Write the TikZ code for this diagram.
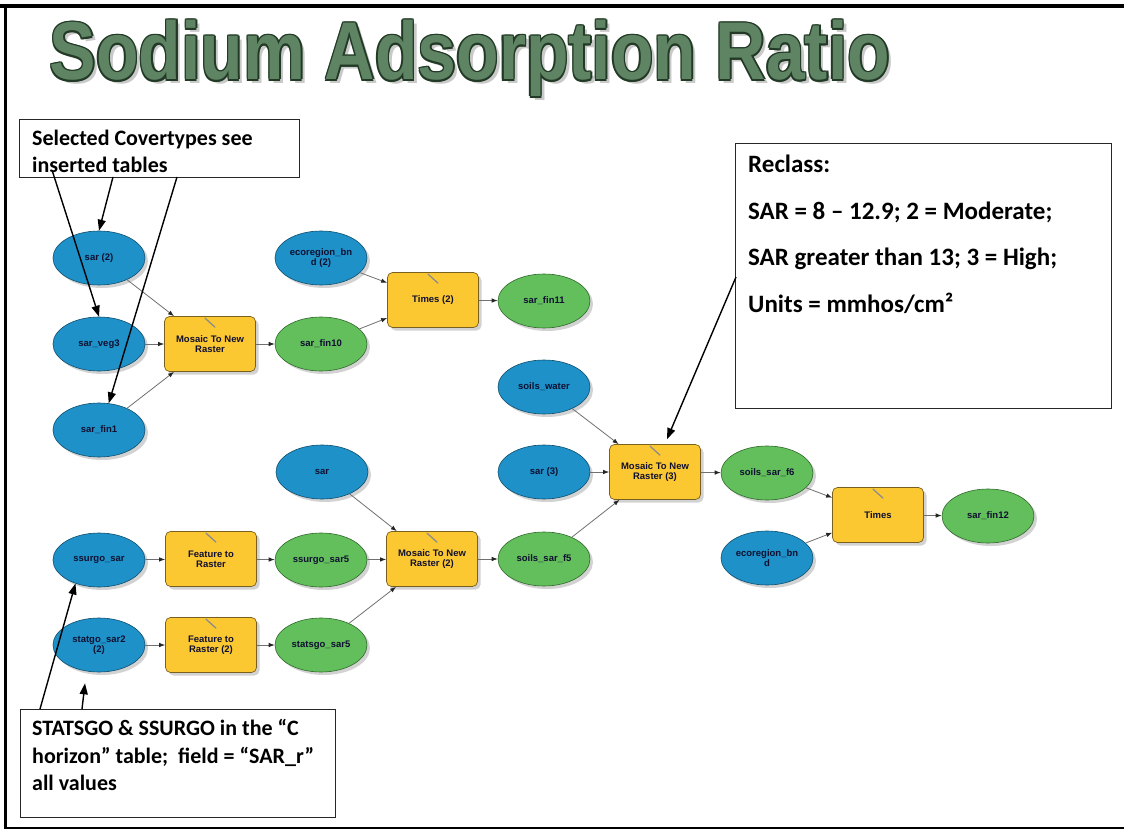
\documentclass[tikz,border=0pt]{standalone}
\usepackage{graphicx}
\usepackage{fontspec}
\setmainfont{Carlito}
\newfontfamily\titlefont{Liberation Sans}
\newfontfamily\modelfont{Liberation Sans}
\usetikzlibrary{arrows.meta,shapes.geometric,shadows,calc}

\definecolor{titlegreen}{HTML}{5E8463}
\definecolor{titledark}{HTML}{223A25}
\definecolor{inblue}{HTML}{1E91C8}
\definecolor{inedge}{HTML}{0F4F6E}
\definecolor{outgreen}{HTML}{63BE5C}
\definecolor{outedge}{HTML}{2E6A2A}
\definecolor{toolyellow}{HTML}{FCC832}
\definecolor{tooledge}{HTML}{7A6020}
\definecolor{labelcol}{HTML}{101030}
\definecolor{connc}{HTML}{707070}

\newcommand\mytitletext{\scalebox{0.85}[1]{\titlefont\bfseries\fontsize{82}{86}\selectfont Sodium Adsorption Ratio}}

\tikzset{
  modeltxt/.style={font=\modelfont\bfseries\fontsize{9.5}{10}\selectfont, text=labelcol, align=center},
  mshadow/.style={drop shadow={shadow xshift=3pt, shadow yshift=-3pt, fill=black!35, opacity=0.5}},
  inp/.style={modeltxt, ellipse, draw=inedge, line width=0.6pt, fill=inblue, minimum width=92pt, minimum height=54pt, inner sep=0pt, mshadow},
  outp/.style={inp, draw=outedge, fill=outgreen},
  tool/.style={modeltxt, rectangle, rounded corners=5pt, draw=tooledge, line width=0.7pt, fill=toolyellow, minimum width=91pt, minimum height=55pt, inner sep=0pt, mshadow},
  conn/.style={draw=connc, line width=0.8pt, -{Latex[length=6pt,width=4.5pt,color=black!85]}},
  hammer/.style={draw=black!45, line width=1.3pt, line cap=round},
  annbox/.style={draw=black!85, line width=0.9pt, fill=white, rectangle, inner sep=0pt, anchor=north west},
  anntxt/.style={font=\bfseries\fontsize{22}{27}\selectfont, anchor=base west, inner sep=0pt},
  rectxt/.style={font=\bfseries\fontsize{25}{29}\selectfont, anchor=base west, inner sep=0pt},
  annarrow/.style={draw=black, line width=1.4pt, -{Triangle[length=11pt,width=8pt]}},
  ttl/.style={anchor=base, inner sep=0pt},
}

\begin{document}
\begin{tikzpicture}[x=1pt,y=-1pt]
\useasboundingbox (0,0) rectangle (1124,829);
\fill[white] (0,0) rectangle (1124,829);

% frame
\draw[line width=3.5pt] (0,6) -- (1124,6);
\draw[line width=3.5pt] (5.5,4.5) -- (5.5,829);
\draw[line width=2.5pt] (5.5,828) -- (1124,828);

% title
\coordinate (tpos) at (470,80);
\node[ttl, text=black!35, opacity=0.6, xshift=4pt, yshift=-4pt] (tshadow) at (tpos) {\mytitletext};
\foreach \dx/\dy [count=\i] in {1.5/0, -1.5/0, 0/1.5, 0/-1.5, 1.05/1.05, -1.05/1.05, 1.05/-1.05, -1.05/-1.05}
  \node[ttl, text=titledark, xshift=\dx pt, yshift=\dy pt] (tcopy\i) at (tpos) {\mytitletext};
\node[ttl, text=titlegreen] (title) at (tpos) {\mytitletext};

% model nodes
\node[inp] (sar2) at (99,258) {sar (2)};
\node[inp] (sarveg) at (99,344) {sar\_veg3};
\node[inp] (sarfin1) at (99,430) {sar\_fin1};
\node[tool] (mos1) at (210,344) {Mosaic To New\\Raster};
\node[outp] (sarfin10) at (321,344) {sar\_fin10};
\node[inp] (eco2) at (321,258) {ecoregion\_bn\\d (2)};
\node[tool] (times2) at (433,300) {Times (2)};
\node[outp] (sarfin11) at (544,301) {sar\_fin11};
\node[inp] (soilswater) at (544,387) {soils\_water};
\node[inp] (sar3) at (544,472) {sar (3)};
\node[tool] (mos3) at (655,472) {Mosaic To New\\Raster (3)};
\node[outp] (soilsf6) at (767,473) {soils\_sar\_f6};
\node[tool] (timesb) at (878,515) {Times};
\node[outp] (sarfin12) at (988,516) {sar\_fin12};
\node[inp] (eco) at (767,558) {ecoregion\_bn\\d};
\node[inp] (sarb) at (322,472) {sar};
\node[outp] (soilsf5) at (544,559) {soils\_sar\_f5};
\node[tool] (mos2) at (432,559) {Mosaic To New\\Raster (2)};
\node[inp] (ssurgo) at (99,560) {ssurgo\_sar};
\node[tool] (feat1) at (211,559) {Feature to\\Raster};
\node[outp] (ssurgo5) at (321,560) {ssurgo\_sar5};
\node[inp] (statgo) at (99,645) {statgo\_sar2\\(2)};
\node[tool] (feat2) at (211,645) {Feature to\\Raster (2)};
\node[outp] (statsgo5) at (321,645) {statsgo\_sar5};

% hammer icons
\foreach \t in {mos1,times2,mos3,timesb,mos2,feat1,feat2}
  \draw[hammer] ($(\t.north)+(-5,2)$) -- ($(\t.north)+(5,11)$);

% model connectors
\draw[conn] (sar2) -- (mos1);
\draw[conn] (sarveg) -- (mos1);
\draw[conn] (sarfin1) -- (mos1);
\draw[conn] (mos1) -- (sarfin10);
\draw[conn] (eco2) -- (times2);
\draw[conn] (sarfin10) -- (times2);
\draw[conn] (times2) -- (sarfin11);
\draw[conn] (soilswater) -- (mos3);
\draw[conn] (sar3) -- (mos3);
\draw[conn] (soilsf5) -- (mos3);
\draw[conn] (mos3) -- (soilsf6);
\draw[conn] (soilsf6) -- (timesb);
\draw[conn] (eco) -- (timesb);
\draw[conn] (timesb) -- (sarfin12);
\draw[conn] (sarb) -- (mos2);
\draw[conn] (ssurgo) -- (feat1);
\draw[conn] (feat1) -- (ssurgo5);
\draw[conn] (ssurgo5) -- (mos2);
\draw[conn] (statgo) -- (feat2);
\draw[conn] (feat2) -- (statsgo5);
\draw[conn] (statsgo5) -- (mos2);
\draw[conn] (mos2) -- (soilsf5);

% annotation boxes
\node[annbox, minimum width=280pt, minimum height=58pt] (selbox) at (19,119) {};
\node[anntxt] (sel1) at (32,146) {Selected Covertypes see};
\node[anntxt] (sel2) at (32,173) {inserted tables};

\node[annbox, minimum width=376pt, minimum height=265pt] (recbox) at (735,143) {};
\node[rectxt] (rec1) at (748,173) {Reclass:};
\node[rectxt] (rec2) at (748,219) {SAR = 8 – 12.9; 2 = Moderate;};
\node[rectxt] (rec3) at (748,265) {SAR greater than 13; 3 = High;};
\node[rectxt] (rec4) at (748,312) {Units = mmhos/cm²};

\node[annbox, minimum width=315pt, minimum height=108pt] (stabox) at (20,709) {};
\node[anntxt] (sta1) at (32,735) {STATSGO \& SSURGO in the “C};
\node[anntxt] (sta2) at (32,763) {horizon” table;~ field = “SAR\_r”};
\node[anntxt] (sta3) at (32,790) {all values};

% annotation arrows
\coordinate (sa) at (113,177);
\coordinate (sb) at (52,170);
\coordinate (sc) at (177,177);
\draw[annarrow] (sa) -- (sar2.north);
\draw[annarrow] (sb) -- (sarveg.north);
\draw[annarrow] (sc) -- (sarfin1.70);

\coordinate (ra) at (736,277);
\coordinate (rtip) at ($(mos3.north)+(12,-5)$);
\draw[annarrow] (ra) -- (rtip);

\coordinate (st1) at (40,709);
\coordinate (st2) at (82,709);
\coordinate (st2tip) at ($(statgo.south)+(-14,11)$);
\draw[annarrow] (st1) -- (ssurgo.225);
\draw[annarrow] (st2) -- (st2tip);
\end{tikzpicture}
\end{document}
